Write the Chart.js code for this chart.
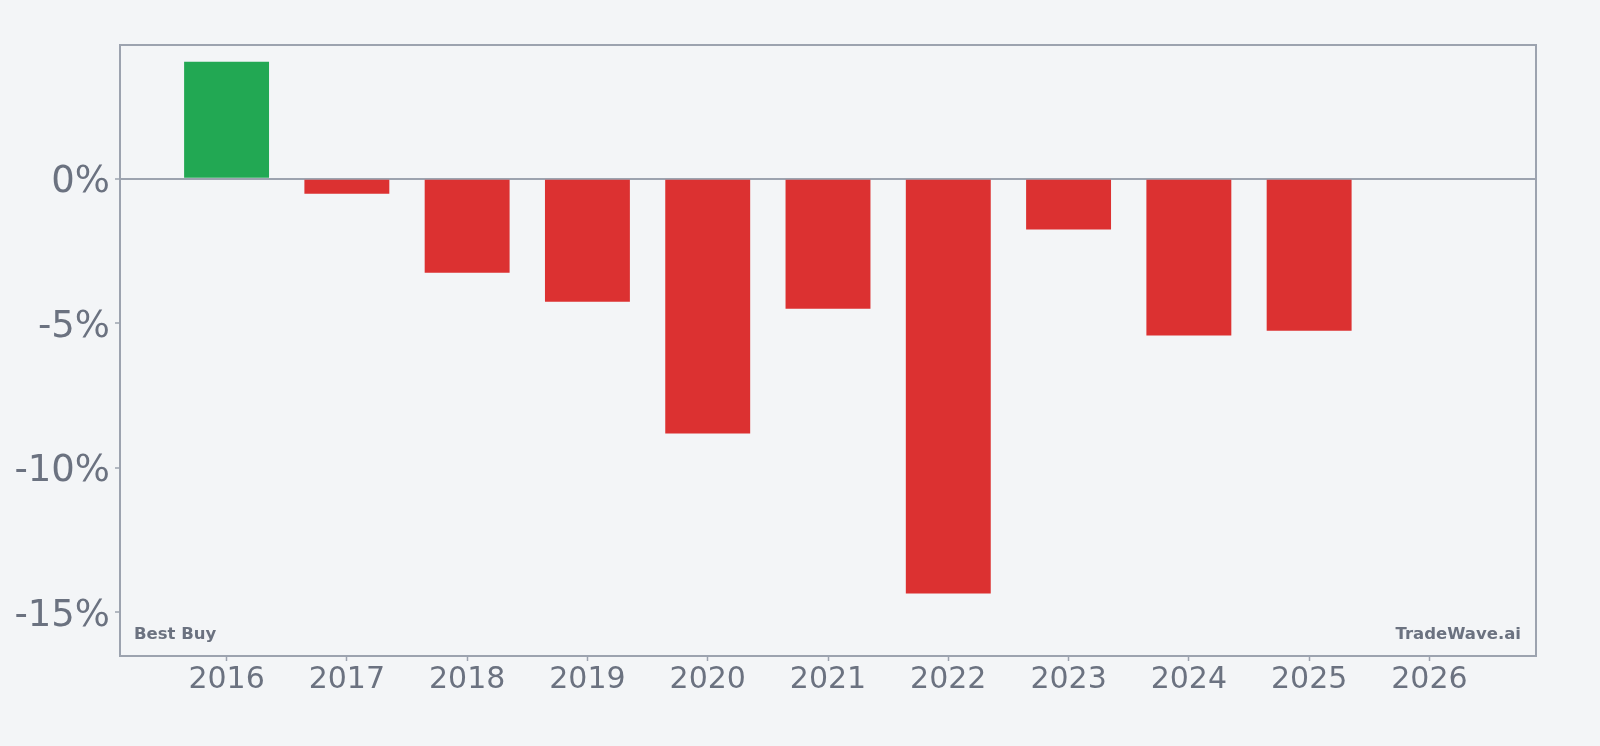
<!DOCTYPE html>
<html>
<head>
<meta charset="utf-8">
<script src="https://cdn.jsdelivr.net/npm/chart.js@4"></script>
<style>
  html, body { margin: 0; padding: 0; background: #f3f5f7; }
  #wrap { width: 1600px; height: 746px; }
</style>
</head>
<body>
<div id="wrap"><canvas id="yearChart" width="1600" height="746"></canvas></div>
<script>
// yearly returns
const years = [2016, 2017, 2018, 2019, 2020, 2021, 2022, 2023, 2024, 2025, 2026];
const returns = [4.05, -0.52, -3.25, -4.26, -8.82, -4.50, -14.36, -1.76, -5.43, -5.26, null];
const yTicks = [0, -5, -10, -15];

const textGray = "#6b7280";
const lineGray = "#9ca3af";

const points = years.map((y, i) => ({ x: y, y: returns[i] }));
const colors = returns.map(v => (v >= 0 ? "#22a853" : "#dc3131"));

// frame + watermark labels
const frame = {
  id: "frame",
  afterDraw(chart) {
    const { ctx, chartArea: a } = chart;
    ctx.save();
    ctx.strokeStyle = lineGray;
    ctx.lineWidth = 2;
    ctx.strokeRect(a.left, a.top, a.right - a.left, a.bottom - a.top);
    ctx.fillStyle = textGray;
    ctx.font = "bold 16.5px 'DejaVu Sans'";
    ctx.textBaseline = "alphabetic";
    ctx.textAlign = "left";
    ctx.fillText("Best Buy", a.left + 14, a.bottom - 17);
    ctx.textAlign = "right";
    ctx.fillText("TradeWave.ai", a.right - 15, a.bottom - 17);
    ctx.restore();
  }
};

new Chart(document.getElementById("yearChart"), {
  type: "bar",
  data: {
    datasets: [{
      data: points,
      backgroundColor: colors,
      borderWidth: 0,
      categoryPercentage: 1,
      barPercentage: 0.706
    }]
  },
  options: {
    responsive: false,
    animation: false,
    layout: { padding: { left: 0, right: 64, top: 45, bottom: 0 } },
    plugins: { legend: { display: false }, tooltip: { enabled: false } },
    scales: {
      x: {
        type: "linear",
        offset: false,
        min: 2015.114,
        max: 2026.886,
        afterBuildTicks: s => { s.ticks = years.map(v => ({ value: v })); },
        afterFit: s => { s.height = 90; },
        border: { display: false },
        grid: {
          offset: false,
          drawOnChartArea: false,
          drawTicks: true,
          tickLength: 5,
          tickColor: lineGray,
          tickWidth: 1.5
        },
        ticks: {
          color: textGray,
          font: { family: "DejaVu Sans", size: 30 },
          padding: 1,
          maxRotation: 0,
          callback: v => String(v)
        }
      },
      y: {
        min: -16.52,
        max: 4.63,
        afterBuildTicks: s => { s.ticks = yTicks.map(v => ({ value: v })); },
        afterFit: s => { s.width = 120; },
        border: { display: false },
        grid: {
          drawOnChartArea: true,
          drawTicks: true,
          tickLength: 5,
          tickColor: lineGray,
          tickWidth: 1.5,
          color: c => (c.tick && c.tick.value === 0 ? lineGray : "rgba(0,0,0,0)"),
          lineWidth: 2
        },
        ticks: {
          color: textGray,
          font: { family: "DejaVu Sans", size: 37 },
          padding: 5,
          labelOffset: 4,
          callback: v => v + "%"
        }
      }
    }
  },
  plugins: [frame]
});
</script>
</body>
</html>
